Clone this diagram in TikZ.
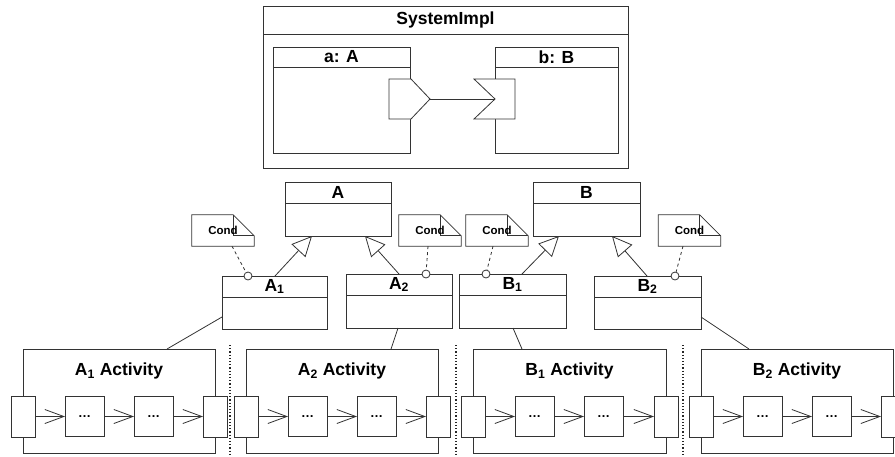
\documentclass[tikz,border=0pt]{standalone}
\usepackage{fontspec}
\setmainfont{Liberation Sans}
\usetikzlibrary{arrows.meta,calc}
\newcommand{\classttl}[3]{% name, header height, label
  \draw[ln] ($(#1.north west)+(0,#2)$) -- ($(#1.north east)+(0,#2)$);
  \node[ttl] (#1t) at ($(#1.north)+(0,#2/2)$) {#3};}
\newcommand{\condnote}[3]{% name, cx, cy
  \node[rectangle, inner sep=0pt, minimum width=62, minimum height=31] (#1) at (#2,#3) {};
  \draw[ln, fill=white] (#1.north west) -- ($(#1.north east)+(-21,0)$) -- ($(#1.north east)+(0,21)$)
     -- (#1.south east) -- (#1.south west) -- cycle;
  \draw[ln] ($(#1.north east)+(-21,0)$) -- ($(#1.north east)+(-21,21)$) -- ($(#1.north east)+(0,21)$);
  \node[condtxt] (#1t) at (#1) {Cond};}
\newcommand{\actblock}[4]{% name, L, R, label
  \node[box, minimum width=#3-#2, minimum height=104, anchor=north west] (#1) at (#2,349) {};
  \node[acttl] (#1t) at ({(#2+#3)/2},371) {#4};
  \node[box, minimum width=24, minimum height=41] (#1p) at (#2,416.5) {};
  \node[box, minimum width=39, minimum height=40] (#1a) at (#2+61.5,416.5) {\dots};
  \node[box, minimum width=39, minimum height=40] (#1b) at (#2+130.5,416.5) {\dots};
  \node[box, minimum width=24, minimum height=41] (#1q) at (#3,416.5) {};
  \draw[flow] (#1p.east) -- (#1a.west);
  \draw[flow] (#1a.east) -- (#1b.west);
  \draw[flow] (#1b.east) -- (#1q.west);}
\begin{document}
\begin{tikzpicture}[x=1pt,y=-1pt,
  ln/.style={line width=0.8pt, draw=black!80},
  box/.style={rectangle, ln, fill=white, inner sep=0pt, outer sep=0pt, font=\fontsize{13}{15}\selectfont\bfseries},
  ttl/.style={inner sep=0pt, font=\fontsize{17.5}{20}\selectfont\bfseries},
  acttl/.style={inner sep=0pt, font=\fontsize{17.5}{21}\selectfont\bfseries},
  condtxt/.style={inner sep=0pt, font=\fontsize{11.5}{13}\selectfont\bfseries},
  gen/.style={ln, -{Triangle[open, length=20pt, width=19pt]}},
  flow/.style={ln, -{Straight Barb[length=19pt, width=14pt]}},
  dep/.style={ln, dashed},
  pin/.style={circle, ln, fill=white, inner sep=0pt, minimum size=8},
  sepline/.style={line width=1.2pt, dotted, black!85},
]
\useasboundingbox (0,0) rectangle (895,456);
\clip (0,0) rectangle (895,456);

% SystemImpl
\node[box, minimum width=365, minimum height=162, anchor=north west] (sys) at (263,6) {};
\classttl{sys}{28}{SystemImpl}
\node[box, minimum width=137, minimum height=106, anchor=north west] (pa) at (273,47) {};
\classttl{pa}{20}{a: A}
\node[box, minimum width=123, minimum height=106, anchor=north west] (pbb) at (495,47) {};
\classttl{pbb}{20}{b: B}
\draw[ln, fill=white] (389,79) -- (411,79) -- (430,99) -- (411,119) -- (389,119) -- cycle;
\draw[ln, fill=white] (474,79) -- (515,79) -- (515,119) -- (474,119) -- (495,99) -- cycle;
\coordinate (porta) at (430,99);
\coordinate (portb) at (495,99);
\draw[ln] (porta) -- (portb);

% classes
\node[box, minimum width=106, minimum height=54, anchor=north west] (A) at (285,182) {};
\classttl{A}{21}{A}
\node[box, minimum width=107, minimum height=54, anchor=north west] (B) at (533,182) {};
\classttl{B}{21}{B}
\node[box, minimum width=105, minimum height=53, anchor=north west] (A1) at (222,276) {};
\classttl{A1}{21}{A\textsubscript{1}}
\node[box, minimum width=106, minimum height=54, anchor=north west] (A2) at (346,274) {};
\classttl{A2}{21}{A\textsubscript{2}}
\node[box, minimum width=107, minimum height=54, anchor=north west] (B1) at (459,274) {};
\classttl{B1}{21}{B\textsubscript{1}}
\node[box, minimum width=107, minimum height=53, anchor=north west] (B2) at (594,276) {};
\classttl{B2}{21}{B\textsubscript{2}}

% generalizations
\draw[gen] ($(A1.north west)+(53,0)$) -- ($(A.south west)+(27,0)$);
\draw[gen] ($(A2.north west)+(53,0)$) -- ($(A.south west)+(80,0)$);
\draw[gen] ($(B1.north west)+(63,0)$) -- ($(B.south west)+(26,0)$);
\draw[gen] ($(B2.north west)+(53,0)$) -- ($(B.south west)+(79,0)$);

% notes
\condnote{n1}{223}{230.5}
\condnote{n2}{430}{230.5}
\condnote{n3}{497}{230.5}
\condnote{n4}{689.5}{230.5}
\node[pin] (c1) at (248,276) {};
\node[pin] (c2) at (426,274) {};
\node[pin] (c3) at (486,274) {};
\node[pin] (c4) at (675,276) {};
\draw[dep] ($(n1.south)+(9,0)$) -- (c1);
\draw[dep] ($(n2.south)+(-2,0)$) -- (c2);
\draw[dep] ($(n3.south)+(-4,0)$) -- (c3);
\draw[dep] ($(n4.south)+(-6.5,0)$) -- (c4);

% activities
\actblock{X1}{23}{215}{A\textsubscript{1} Activity}
\actblock{X2}{246}{438}{A\textsubscript{2} Activity}
\actblock{X3}{473}{666}{B\textsubscript{1} Activity}
\actblock{X4}{701}{893}{B\textsubscript{2} Activity}

\draw[ln] ($(A1.south west)+(0,-12)$) -- ($(X1.north west)+(144,0)$);
\draw[ln] ($(A2.south west)+(52,0)$) -- ($(X2.north west)+(145,0)$);
\draw[ln] ($(B1.south west)+(54,0)$) -- ($(X3.north west)+(49,0)$);
\draw[ln] ($(B2.south east)+(0,-12)$) -- ($(X4.north west)+(48,0)$);

% separators
\coordinate (s1t) at (230,345); \coordinate (s1b) at (230,456);
\coordinate (s2t) at (456,345); \coordinate (s2b) at (456,456);
\coordinate (s3t) at (683,345); \coordinate (s3b) at (683,456);
\draw[sepline] (s1t) -- (s1b);
\draw[sepline] (s2t) -- (s2b);
\draw[sepline] (s3t) -- (s3b);
\end{tikzpicture}
\end{document}
